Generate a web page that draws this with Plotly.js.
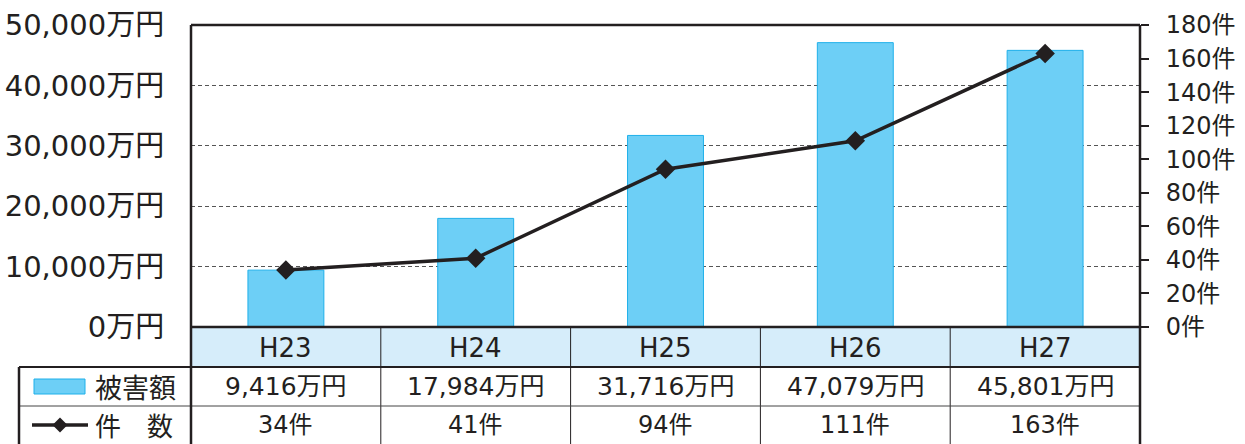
<!DOCTYPE html>
<html><head><meta charset="utf-8">
<script src="https://cdn.plot.ly/plotly-3.0.1.min.js"></script>
<style>html,body{margin:0;padding:0;background:#fff;}#chart{width:1245px;height:444px;}</style>
</head><body><div id="chart"></div>
<script>
const categories = ['H23', 'H24', 'H25', 'H26', 'H27'];
const damage = [9416, 17984, 31716, 47079, 45801];
const counts = [34, 41, 94, 111, 163];
const damageName = '被害額';
const countName = '件　数';
const yenSuffix = '万円';
const countSuffix = '件';

const FONT = '"DejaVu Sans", "Noto Sans CJK JP", sans-serif';
const CJK = '"Noto Sans CJK JP", sans-serif';
const INK = '#231f20';
const W = 1245, H = 444, L = 191, R = 1140, T = 25, B = 327;
const pw = R - L, ph = B - T;
const px = x => (x - L) / pw;
const py = y => (B - y) / ph;

const traces = [
  {type:'bar', x:categories, y:damage, width:0.4, yaxis:'y',
   marker:{color:'#6dcff6', line:{color:'#1fb0ea', width:1}}, hoverinfo:'skip'},
  {type:'scatter', mode:'lines+markers', x:categories, y:counts, yaxis:'y2',
   line:{color:INK, width:3.5}, marker:{symbol:'diamond', size:15, color:INK}, hoverinfo:'skip'}
];

const shapes = [];
const ann = [];
shapes.push({type:'rect', xref:'x', yref:'paper', x0:-0.5, x1:4.5, y0:py(327), y1:py(367), fillcolor:'#d6edfa', line:{width:0}, layer:'below'});
for (let i = 0; i < categories.length - 1; i++) {
  shapes.push({type:'line', xref:'x', yref:'paper', x0:i+0.5, x1:i+0.5, y0:py(327), y1:py(444), line:{color:INK, width:1}});
}
shapes.push({type:'line', xref:'paper', yref:'paper', x0:px(19), x1:1, y0:py(367), y1:py(367), line:{color:INK, width:2}});
shapes.push({type:'line', xref:'paper', yref:'paper', x0:px(19), x1:1, y0:py(406), y1:py(406), line:{color:'#444', width:1}});
shapes.push({type:'line', xref:'paper', yref:'paper', x0:0, x1:1, y0:0, y1:0, line:{color:INK, width:2.5}});
shapes.push({type:'line', xref:'paper', yref:'paper', x0:0, x1:1, y0:1, y1:1, line:{color:INK, width:2.5}});
shapes.push({type:'line', xref:'paper', yref:'paper', x0:0, x1:0, y0:1, y1:py(444), line:{color:INK, width:2.5}});
shapes.push({type:'line', xref:'paper', yref:'paper', x0:1, x1:1, y0:1, y1:py(444), line:{color:INK, width:2.5}});
shapes.push({type:'line', xref:'paper', yref:'paper', x0:px(19), x1:px(19), y0:py(367), y1:py(444), line:{color:INK, width:2.5}});
shapes.push({type:'rect', xref:'paper', yref:'paper', x0:px(34), x1:px(85), y0:py(379), y1:py(394), fillcolor:'#6dcff6', line:{color:'#1fb0ea', width:1}});
shapes.push({type:'line', xref:'paper', yref:'paper', x0:px(32), x1:px(88), y0:py(425), y1:py(425), line:{color:INK, width:3.5}});
const cx = 60, cy = 425, d = 7.5;
shapes.push({type:'path', xref:'paper', yref:'paper',
  path:`M ${px(cx-d)} ${py(cy)} L ${px(cx)} ${py(cy-d)} L ${px(cx+d)} ${py(cy)} L ${px(cx)} ${py(cy+d)} Z`,
  fillcolor:INK, line:{color:INK, width:0}});

categories.forEach((c, i) => {
  ann.push({xref:'x', yref:'paper', x:c, y:py(348), yanchor:'middle', xanchor:'center', text:c, showarrow:false, font:{family:FONT, size:26, color:INK}});
  ann.push({xref:'x', yref:'paper', x:c, y:py(387), yanchor:'middle', xanchor:'center', text:damage[i].toLocaleString('en-US') + yenSuffix, showarrow:false, font:{family:FONT, size:25, color:INK}});
  ann.push({xref:'x', yref:'paper', x:c, y:py(424.5), yanchor:'middle', xanchor:'center', text:counts[i] + countSuffix, showarrow:false, font:{family:FONT, size:24, color:INK}});
});
ann.push({xref:'paper', yref:'paper', x:px(93), y:py(387), yanchor:'middle', xanchor:'left', text:damageName, showarrow:false, font:{family:CJK, size:27, color:INK}});
ann.push({xref:'paper', yref:'paper', x:px(93), y:py(424), yanchor:'middle', xanchor:'left', text:countName, showarrow:false, font:{family:CJK, size:26, color:INK}});

const layout = {
  width:W, height:H,
  margin:{l:L, r:W-R, t:T, b:H-B, pad:0},
  paper_bgcolor:'#fff', plot_bgcolor:'#fff',
  showlegend:false,
  font:{family:FONT, color:INK},
  xaxis:{type:'category', range:[-0.5, 4.5], showticklabels:false, ticks:'', showgrid:false, zeroline:false, showline:false, fixedrange:true},
  yaxis:{range:[0, 50000], dtick:10000, tickformat:',d', ticksuffix:yenSuffix,
    showgrid:true, gridcolor:'#555', griddash:'4px,3px', gridwidth:1, zeroline:false, showline:false,
    ticks:'outside', ticklen:20, tickcolor:'rgba(0,0,0,0)',
    tickfont:{family:FONT, size:29, color:INK}},
  yaxis2:{range:[0, 180], dtick:20, overlaying:'y', side:'right', ticksuffix:countSuffix,
    showgrid:false, zeroline:false, showline:false,
    ticks:'outside', ticklen:8, tickwidth:2, tickcolor:INK, ticklabelstandoff:12,
    tickfont:{family:FONT, size:24, color:INK}},
  shapes:shapes, annotations:ann
};
Plotly.newPlot('chart', traces, layout, {staticPlot:true, displayModeBar:false});
</script></body></html>
